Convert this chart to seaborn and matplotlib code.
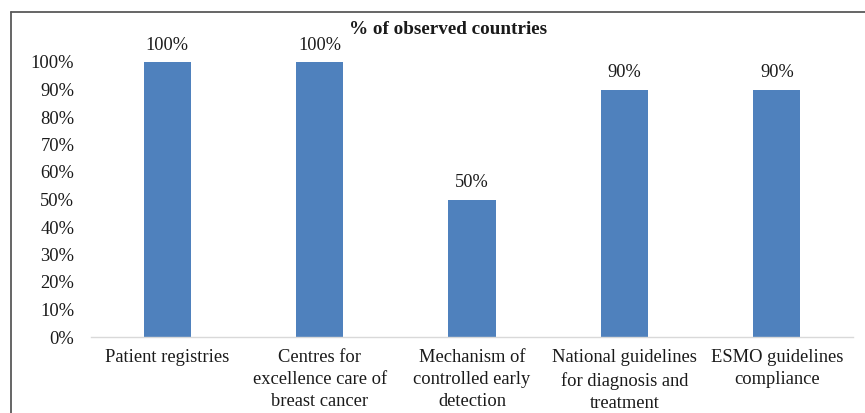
import matplotlib
matplotlib.use("Agg")
import matplotlib.pyplot as plt
import seaborn as sns
import pandas as pd
from matplotlib.lines import Line2D
from matplotlib.ticker import FuncFormatter

categories = ["Patient registries",
              "Centres for\nexcellence care of\nbreast cancer",
              "Mechanism of\ncontrolled early\ndetection",
              "National guidelines\nfor diagnosis and\ntreatment",
              "ESMO guidelines\ncompliance"]
values = [1.00, 1.00, 0.50, 0.90, 0.90]
value_labels = ["100%", "100%", "50%", "90%", "90%"]
title = "% of observed countries"

sns.set_theme(style="white")
plt.rcParams['font.family'] = ['Liberation Serif', 'DejaVu Serif']

df = pd.DataFrame({"cat": categories, "val": values})

fig = plt.figure(figsize=(8.65, 4.13), dpi=100)
ax = fig.add_axes([91/865, 1-337/413, (853-91)/865, (337-62)/413])
sns.barplot(data=df, x="cat", y="val", color="#4F81BD", width=0.31, ax=ax,
            saturation=1, edgecolor="none")
ax.set_ylim(0, 1.0)
ax.set_yticks([i/10 for i in range(11)])
ax.yaxis.set_major_formatter(FuncFormatter(lambda v, p: f"{v*100:.0f}%"))
ax.set_xlabel("")
ax.set_ylabel("")
for s in ["top", "right", "left"]:
    ax.spines[s].set_visible(False)
ax.spines["bottom"].set_color("#D9D9D9")
ax.spines["bottom"].set_linewidth(1.0)
ax.tick_params(axis="both", length=0, labelsize=13.3, colors="#1a1a1a")
ax.tick_params(axis="y", pad=12)
ax.tick_params(axis="x", pad=9)
for lbl in ax.get_xticklabels():
    lbl.set_linespacing(1.38)

for i, (v, t) in enumerate(zip(values, value_labels)):
    ax.text(i, v + 0.03, t, ha="center", va="bottom", fontsize=13.2,
            color="#1a1a1a", clip_on=False)

fig.text(448/865, 1-29/413, title, ha="center", va="center",
         fontsize=13.8, fontweight="bold", color="#1a1a1a")

fig.add_artist(Line2D([11/865, 1.0], [1-12/413, 1-12/413], transform=fig.transFigure,
                      color="#595959", linewidth=1.3))
fig.add_artist(Line2D([11/865, 11/865], [0, 1-12/413], transform=fig.transFigure,
                      color="#595959", linewidth=1.3))

fig.savefig("out.png", dpi=100)
